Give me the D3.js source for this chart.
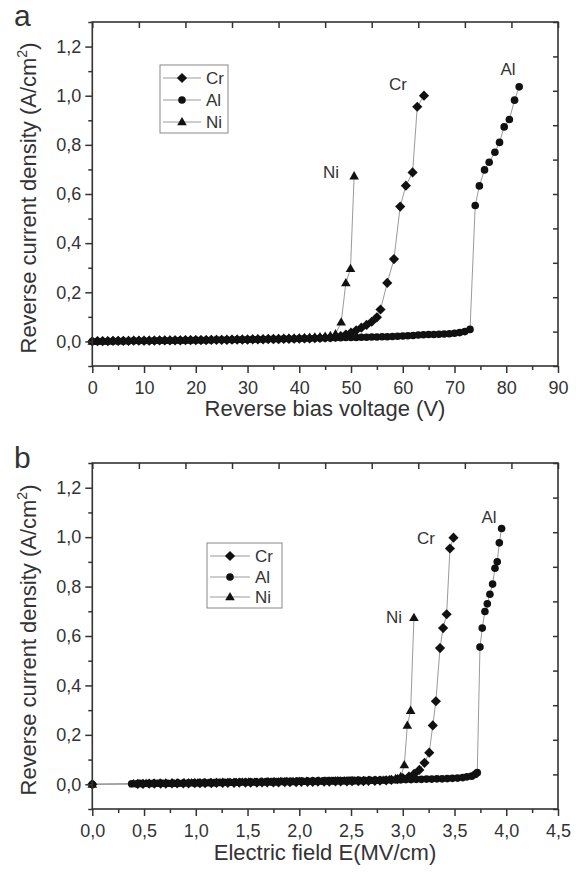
<!DOCTYPE html>
<html><head><meta charset="utf-8">
<script src="https://cdn.jsdelivr.net/npm/d3@7/dist/d3.min.js"></script>
<style>
html,body{margin:0;padding:0;background:#fff;}
svg{display:block;font-family:"Liberation Sans",Arial,sans-serif;}
</style></head>
<body><svg id="c" width="585" height="873"></svg>
<script>
// ---------- Panel a: voltage (V) vs reverse current density (A/cm2) ----------
const crV = [0,1,2,3,4,5,6,7,8,9,10,11,12,13,14,15,16,17,18,19,20,21,22,23,24,25,26,27,28,29,30,31,32,33,34,35,36,37,38,39,40,41,42,43,44,45,46,47,48,49,50,51,52,53,54,55,55.7,57.0,58.3,59.5,60.6,61.9,62.8,64.1];
const crJ = [0,0.001,0.001,0.001,0.002,0.002,0.002,0.002,0.003,0.003,
  0.003,0.003,0.003,0.004,0.004,0.004,0.004,0.004,0.005,0.005,
  0.005,0.005,0.005,0.006,0.006,0.006,0.006,0.007,0.007,0.007,
  0.007,0.008,0.008,0.008,0.009,0.009,0.009,0.010,0.010,0.011,
  0.011,0.012,0.012,0.013,0.014,0.015,0.016,
  0.018,0.022,0.028,0.036,0.045,0.056,0.067,0.080,0.098,
  0.130,0.238,0.335,0.549,0.634,0.688,0.955,1.000];
const alV = [0,1,2,3,4,5,6,7,8,9,10,11,12,13,14,15,16,17,18,19,20,21,22,23,24,25,26,27,28,29,30,31,32,33,34,35,36,37,38,39,40,41,42,43,44,45,46,47,48,49,50,51,52,53,54,55,56,57,58,59,60,61,62,63,64,65,66,67,68,69,70,71,72,73,74.0,74.8,75.8,76.7,77.8,78.7,79.6,80.6,81.6,82.5];
const alJ = [0,0.001,0.001,0.001,0.002,0.002,0.002,0.002,0.003,0.003,
  0.003,0.003,0.004,0.004,0.004,0.004,0.005,0.005,0.005,0.005,
  0.006,0.006,0.006,0.006,0.007,0.007,0.007,0.007,0.008,0.008,
  0.008,0.009,0.009,0.009,0.010,0.010,0.010,0.011,0.011,0.011,
  0.012,0.012,0.012,0.013,0.013,0.014,0.014,0.015,0.015,0.016,
  0.016,0.016,0.017,0.017,0.018,0.018,0.019,0.019,0.020,0.021,
  0.022,0.023,0.024,0.026,0.027,0.028,0.028,0.029,0.030,0.031,
  0.033,0.036,0.040,0.049,
  0.553,0.633,0.698,0.729,0.770,0.810,0.873,0.903,0.982,1.036];
const niV = [0,1,2,3,4,5,6,7,8,9,10,11,12,13,14,15,16,17,18,19,20,21,22,23,24,25,26,27,28,29,30,31,32,33,34,35,36,37,38,39,40,41,42,43,44,45,46,47,48.1,49.0,49.9,50.6];
const niJ = [0,0.001,0.001,0.001,0.002,0.002,0.002,0.003,0.003,0.003,
  0.003,0.004,0.004,0.004,0.004,0.005,0.005,0.005,0.005,0.006,
  0.006,0.006,0.006,0.007,0.007,0.007,0.008,0.008,0.008,0.009,
  0.009,0.009,0.010,0.010,0.011,0.011,0.012,0.012,0.013,0.013,
  0.014,0.015,0.016,0.017,0.018,0.020,0.023,0.030,
  0.078,0.238,0.296,0.673];

// ---------- Panel b: electric field (MV/cm) vs reverse current density ----------
const crE = [0,0.44,0.49,0.55,0.60,0.66,0.71,0.77,0.82,0.88,0.93,
  0.99,1.04,1.09,1.15,1.20,1.26,1.31,1.37,1.42,1.48,
  1.53,1.59,1.64,1.69,1.75,1.80,1.86,1.91,1.97,2.02,
  2.08,2.13,2.18,2.24,2.29,2.35,2.40,2.46,2.51,2.57,
  2.62,2.67,2.73,2.78,2.84,2.89,2.95,3.00,3.06,3.11,
  3.16,3.21,3.256,3.29,3.32,3.36,3.39,3.424,3.456,3.49];
const crJb = [0,0.002,0.002,0.003,0.003,0.003,0.003,0.004,0.004,0.004,0.004,
  0.005,0.005,0.005,0.005,0.006,0.006,0.006,0.006,0.007,0.007,
  0.007,0.007,0.008,0.008,0.008,0.008,0.009,0.009,0.009,0.010,
  0.010,0.010,0.011,0.011,0.011,0.012,0.012,0.012,0.013,0.013,
  0.013,0.014,0.014,0.015,0.016,0.018,0.021,0.025,0.031,0.042,
  0.058,0.087,0.128,0.238,0.336,0.551,0.632,0.688,0.954,0.998];
const alE = [0,0.38,0.43,0.48,0.53,0.58,0.63,0.68,0.73,0.78,0.83,
  0.88,0.93,0.98,1.03,1.08,1.13,1.18,1.23,1.28,1.33,
  1.38,1.43,1.48,1.53,1.58,1.63,1.68,1.73,1.78,1.83,
  1.88,1.93,1.98,2.03,2.08,2.13,2.18,2.23,2.28,2.33,
  2.38,2.43,2.48,2.53,2.58,2.63,2.68,2.73,2.78,2.83,
  2.88,2.93,2.98,3.03,3.08,3.13,3.18,3.23,3.28,3.33,
  3.38,3.43,3.48,3.53,3.58,3.62,3.666,3.70,3.72,
  3.746,3.768,3.794,3.817,3.842,3.868,3.891,3.913,3.933,3.955];
const alJb = [0,0.002,0.002,0.003,0.003,0.003,0.004,0.004,0.004,0.005,0.005,
  0.005,0.006,0.006,0.006,0.007,0.007,0.007,0.008,0.008,0.008,
  0.009,0.009,0.009,0.010,0.010,0.010,0.011,0.011,0.011,0.012,
  0.012,0.012,0.013,0.013,0.013,0.014,0.014,0.014,0.015,0.015,
  0.015,0.015,0.016,0.016,0.016,0.016,0.017,0.017,0.017,0.017,
  0.018,0.018,0.018,0.019,0.019,0.020,0.020,0.021,0.021,0.022,
  0.022,0.023,0.024,0.025,0.027,0.030,0.033,0.040,0.047,
  0.555,0.632,0.699,0.730,0.769,0.810,0.874,0.900,0.977,1.035];
const niE = [0,0.40,0.46,0.52,0.59,0.65,0.71,0.77,0.83,0.89,0.96,
  1.02,1.08,1.14,1.20,1.26,1.33,1.39,1.45,1.51,1.57,
  1.63,1.70,1.76,1.82,1.88,1.94,2.00,2.07,2.13,2.19,
  2.25,2.31,2.37,2.44,2.50,2.56,2.62,2.68,2.74,2.81,
  2.87,2.93,2.98,3.015,3.044,3.076,3.108];
const niJb = [0,0.002,0.002,0.003,0.003,0.003,0.004,0.004,0.004,0.005,0.005,
  0.005,0.006,0.006,0.006,0.007,0.007,0.007,0.008,0.008,0.008,
  0.009,0.009,0.009,0.010,0.010,0.010,0.011,0.011,0.011,0.012,
  0.012,0.012,0.013,0.013,0.013,0.014,0.014,0.015,0.015,0.016,
  0.018,0.022,0.030,0.078,0.238,0.298,0.674];

// ---------- Axis ticks ----------
const yMajor = [0,0.2,0.4,0.6,0.8,1.0,1.2];
const yMinor = [-0.1,0.1,0.3,0.5,0.7,0.9,1.1,1.3];
const yRight = [-0.1,0.04,0.18,0.32,0.46,0.6,0.74,0.88,1.02,1.16,1.3];
const vMajor = [0,10,20,30,40,50,60,70,80,90];
const vMinor = [5,15,25,35,45,55,65,75,85];
const vTop = [0,9,18,27,36,45,54,63,72,81,90];
const eMajor = [0,0.5,1.0,1.5,2.0,2.5,3.0,3.5,4.0,4.5];
const eMinor = [0.25,0.75,1.25,1.75,2.25,2.75,3.25,3.75,4.25];
const eTop = [0,0.45,0.9,1.35,1.8,2.25,2.7,3.15,3.6,4.05,4.5];

const seriesNames = ["Cr","Al","Ni"];

const svg = d3.select("#c");
const ink = "#333", sym = "#111", lineCol = "#9a9a9a";
const fmt1 = d => d3.format(".1f")(d).replace(".", ",").replace("-0,0","0,0");
const fmtV = d => d3.format("d")(d);

function marker(g, type, x, y) {
  if (type === "Cr") {
    const r = 5.1;
    g.append("path").attr("d", `M${x},${y-r}L${x+r},${y}L${x},${y+r}L${x-r},${y}Z`).attr("fill", sym);
  } else if (type === "Al") {
    g.append("circle").attr("cx", x).attr("cy", y).attr("r", 3.8).attr("fill", sym);
  } else {
    const w = 4.8, h = 8.4;
    g.append("path").attr("d", `M${x},${y-h*0.6}L${x+w},${y+h*0.4}L${x-w},${y+h*0.4}Z`).attr("fill", sym);
  }
}

function panel(cfg) {
  const x = d3.scaleLinear().domain(cfg.xDomain).range([92.3, 558]);
  const y = d3.scaleLinear().domain([-0.1, 1.3]).range([cfg.bottom, cfg.top]);
  const g = svg.append("g");

  const line = d3.line().x(d => x(d[0])).y(d => y(d[1]));
  cfg.series.forEach(s => {
    const pts = s.xs.map((v, i) => [v, s.ys[i]]);
    g.append("path").attr("d", line(pts)).attr("fill", "none")
      .attr("stroke", lineCol).attr("stroke-width", 1);
  });
  cfg.series.forEach(s => {
    s.xs.forEach((v, i) => marker(g, s.name, x(v), y(s.ys[i])));
  });

  g.append("rect").attr("x", 92.3).attr("y", cfg.top).attr("width", 558 - 92.3)
    .attr("height", cfg.bottom - cfg.top).attr("fill", "none").attr("stroke", ink).attr("stroke-width", 1.6);

  const styleAxis = a => {
    a.select(".domain").remove();
    a.selectAll("line").attr("stroke", ink).attr("stroke-width", 1.5);
    a.selectAll("text").attr("fill", ink).attr("font-size", 18)
      .attr("font-family", "'Liberation Sans', Arial, sans-serif");
  };
  styleAxis(g.append("g").attr("transform", `translate(0,${cfg.bottom})`)
    .call(d3.axisBottom(x).tickValues(cfg.xMajor).tickSize(7).tickPadding(8).tickFormat(cfg.xFmt)));
  styleAxis(g.append("g").attr("transform", `translate(0,${cfg.bottom})`)
    .call(d3.axisBottom(x).tickValues(cfg.xMinor).tickSize(4).tickFormat("")));
  styleAxis(g.append("g").attr("transform", `translate(0,${cfg.top})`)
    .call(d3.axisBottom(x).tickValues(cfg.xTop).tickSize(6).tickFormat("")));
  styleAxis(g.append("g").attr("transform", `translate(92.3,0)`)
    .call(d3.axisLeft(y).tickValues(yMajor).tickSize(7).tickPadding(4).tickFormat(fmt1)));
  styleAxis(g.append("g").attr("transform", `translate(92.3,0)`)
    .call(d3.axisLeft(y).tickValues(yMinor).tickSize(4).tickFormat("")));
  styleAxis(g.append("g").attr("transform", `translate(558,0)`)
    .call(d3.axisLeft(y).tickValues(yRight).tickSize(5).tickFormat("")));

  g.append("text").attr("x", 325).attr("y", cfg.xTitleY).attr("text-anchor", "middle")
    .attr("font-size", 22).attr("fill", ink).text(cfg.xTitle);
  const yt = g.append("text").attr("transform", `translate(36,${(cfg.top + cfg.bottom) / 2 + 4}) rotate(-90)`)
    .attr("text-anchor", "middle").attr("font-size", 22).attr("fill", ink);
  yt.append("tspan").text("Reverse current density (A/cm");
  yt.append("tspan").attr("font-size", 14).attr("dy", -9).text("2");
  yt.append("tspan").attr("dy", 9).text(")");

  g.append("text").attr("x", 14).attr("y", cfg.letterY).attr("font-size", 30).attr("fill", ink).text(cfg.letter);

  const L = cfg.legend;
  g.append("rect").attr("x", L.x).attr("y", L.y).attr("width", L.w).attr("height", L.h)
    .attr("fill", "#fff").attr("stroke", "#888").attr("stroke-width", 1);
  seriesNames.forEach((n, i) => {
    const yy = L.rows[i];
    g.append("line").attr("x1", L.x + 3).attr("x2", L.x + L.lineW).attr("y1", yy).attr("y2", yy)
      .attr("stroke", lineCol).attr("stroke-width", 1);
    marker(g, n, L.x + 3 + (L.lineW - 3) / 2, yy);
    g.append("text").attr("x", L.x + L.lineW + 5).attr("y", yy + 6).attr("font-size", 17)
      .attr("fill", ink).text(n);
  });

  cfg.notes.forEach(a => {
    g.append("text").attr("x", a.x).attr("y", a.y).attr("text-anchor", "middle")
      .attr("font-size", 17).attr("fill", ink).text(a.t);
  });
}

panel({
  xDomain: [0, 90], top: 22, bottom: 366,
  xMajor: vMajor, xMinor: vMinor, xTop: vTop, xFmt: fmtV,
  xTitle: "Reverse bias voltage (V)", xTitleY: 416,
  letter: "a", letterY: 26,
  legend: {x: 160, y: 65, w: 68, h: 68, lineW: 41, rows: [78, 100, 122]},
  notes: [{t: "Cr", x: 398, y: 90}, {t: "Al", x: 508, y: 75}, {t: "Ni", x: 331, y: 178}],
  series: [
    {name: "Cr", xs: crV, ys: crJ},
    {name: "Al", xs: alV, ys: alJ},
    {name: "Ni", xs: niV, ys: niJ}
  ]
});

panel({
  xDomain: [0, 4.5], top: 463, bottom: 809,
  xMajor: eMajor, xMinor: eMinor, xTop: eTop, xFmt: fmt1,
  xTitle: "Electric field E(MV/cm)", xTitleY: 860,
  letter: "b", letterY: 468,
  legend: {x: 207, y: 543, w: 75, h: 65, lineW: 43, rows: [556, 577, 597]},
  notes: [{t: "Cr", x: 426, y: 544}, {t: "Al", x: 489, y: 523}, {t: "Ni", x: 394, y: 623}],
  series: [
    {name: "Cr", xs: crE, ys: crJb},
    {name: "Al", xs: alE, ys: alJb},
    {name: "Ni", xs: niE, ys: niJb}
  ]
});
</script>
</body></html>
